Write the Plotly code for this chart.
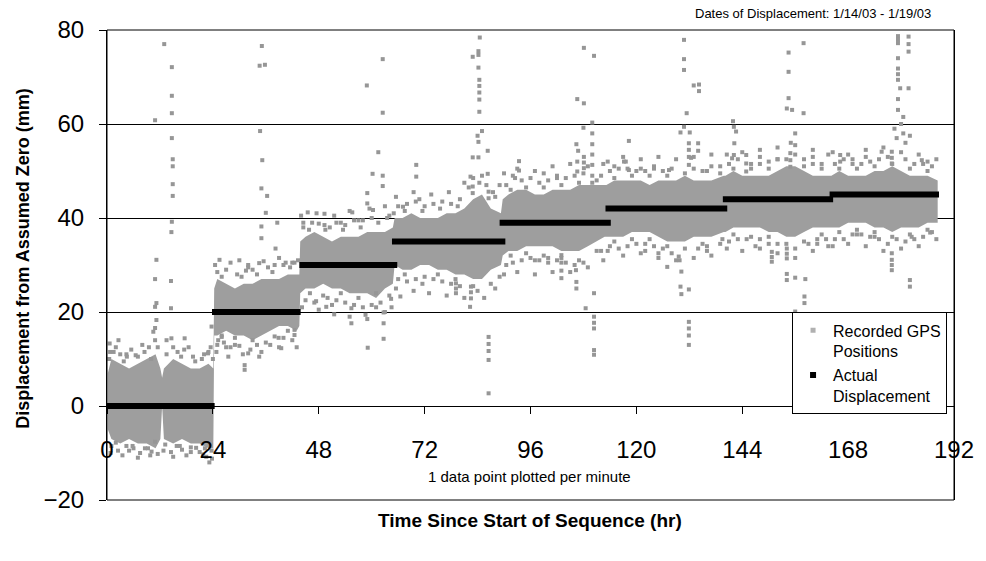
import plotly.graph_objects as go

FONT = "Liberation Sans, Arial, sans-serif"

# ---- data ----
x_ticks = [0, 24, 48, 72, 96, 120, 144, 168, 192]
y_ticks = [-20, 0, 20, 40, 60, 80]

# actual displacement steps (hr start, hr end, mm)
seg_start = [0, 23.8, 43.6, 64.6, 89.0, 113.0, 139.6, 163.8]
seg_end = [24.4, 43.9, 65.8, 90.3, 114.2, 140.6, 164.6, 188.6]
seg_level = [0, 20, 30, 35, 39, 42, 44, 45]

# dense core of the recorded GPS cloud (hr, lower mm, upper mm)
band_hr = [0.2, 1, 3, 5, 7, 9, 11, 12.1, 12.5, 12.9, 15, 17, 19, 21, 23, 24.1,
           24.3, 25, 27, 29, 31, 33, 35, 37, 39, 41, 43, 43.6,
           43.8, 45, 47, 49, 51, 53, 55, 57, 59, 61, 63, 64.8,
           65.2, 67, 69, 71, 73, 75, 77, 79, 81, 83, 85, 87, 89.3,
           89.7, 91, 93, 95, 97, 99, 101, 103, 105, 107, 109, 111, 112.8,
           113.2, 115, 117, 119, 121, 123, 125, 127, 129, 131, 133, 135, 137, 139.8,
           140.2, 142, 144, 146, 148, 150, 152, 154, 156, 158, 160, 162, 163.9,
           164.2, 166, 168, 170, 172, 174, 176, 178, 180, 182, 184, 186, 188.3]
band_low = [-5, -7, -8, -7, -8, -8, -9, -7, 0, -7, -8, -7, -8, -8, -9, -9,
            15, 15, 16, 15, 15, 14, 15, 16, 17, 17, 16, 17,
            24, 25, 25, 26, 25, 25, 24, 24, 24, 23, 25, 26,
            30, 29, 29, 30, 30, 29, 29, 28, 28, 27, 27, 29, 30,
            32, 33, 33, 34, 34, 34, 34, 33, 33, 33, 34, 35, 36,
            36, 36, 36, 37, 37, 37, 36, 35, 35, 35, 36, 36, 36, 37,
            37, 38, 38, 38, 38, 37, 37, 36, 36, 37, 38, 38, 38,
            38, 38, 39, 39, 39, 38, 38, 37, 38, 38, 38, 39, 39]
band_high = [7, 10, 9, 8, 9, 10, 11, 8, 6, 8, 10, 9, 8, 8, 9, 8,
             25, 27, 26, 25, 26, 26, 27, 27, 27, 28, 28, 28,
             35, 36, 37, 36, 35, 36, 36, 36, 37, 37, 37, 38,
             40, 40, 41, 40, 40, 40, 41, 41, 42, 44, 45, 42, 41,
             44, 45, 46, 46, 45, 45, 46, 46, 46, 47, 47, 47, 47,
             47, 48, 48, 48, 48, 47, 48, 48, 48, 49, 48, 48, 48, 49,
             49, 50, 49, 49, 49, 49, 50, 51, 51, 50, 49, 49, 49,
             49, 50, 49, 49, 49, 50, 50, 51, 50, 49, 49, 49, 48]

# scattered positions outside the dense core (hr, mm)
gps_outliers = [
    (0.6, 13.3), (2.6, 14.0), (0.7, 11.5), (4.4, 11.0), (10.9, 60.8), (12.97, 77.0),
    (14.7, 72.1), (14.7, 66.0), (14.7, 62.3), (14.7, 57.0), (14.9, 52.5), (14.9, 51.0),
    (14.9, 47.2), (14.9, 44.7), (14.7, 39.2), (14.6, 37.0), (11.2, 31.1), (10.9, 27.0),
    (14.5, 26.6), (11.2, 21.9), (10.9, 21.1), (14.5, 20.8), (11.2, 18.3), (10.9, 16.6),
    (10.5, 15.8), (10.9, 14.0), (13.5, 14.0), (14.6, 14.4), (17.6, 14.4), (22.9, 11.2),
    (23.7, 16.9), (10.1, -9.7), (9.3, -9.0), (10.9, -7.6), (15.8, -8.5), (23.7, -9.5),
    (22.2, -9.0), (4.4, -8.5), (6.0, -9.0), (19.0, -8.8),
    (35.1, 76.6), (34.6, 72.4), (35.8, 72.6), (34.7, 58.5), (35.2, 52.3), (35.0, 46.3),
    (36.3, 44.7), (36.0, 41.1), (35.0, 38.2), (38.6, 39.0), (35.0, 35.7), (38.2, 33.5),
    (25.5, 31.1), (34.5, 30.4), (31.2, 8.7), (31.2, 7.7), (34.5, 10.5), (32.0, 11.2),
    (39.5, 12.3), (42.5, 16.2), (42.5, 15.1), (25.2, 14.0), (26.0, 14.7), (38.9, 14.5),
    (30.0, 31.0), (32.0, 29.5), (40.0, 30.0), (42.0, 30.5), (27.0, 12.5), (29.0, 13.0),
    (62.5, 73.8), (58.9, 68.2), (62.5, 62.4), (61.5, 54.0), (60.2, 49.4), (62.5, 49.0),
    (62.5, 46.8), (59.0, 45.3), (59.0, 43.1), (60.3, 41.7), (55.6, 41.2), (49.3, 40.9),
    (49.3, 38.5), (45.5, 41.2), (59.1, 12.4), (62.7, 14.3), (62.7, 17.6), (62.7, 19.9),
    (55.4, 17.6), (55.4, 20.8), (58.6, 19.4), (49.7, 21.1), (47.4, 22.3), (64.4, 22.8),
    (66.5, 23.3), (53.0, 39.0), (57.0, 39.5), (44.5, 39.0), (51.0, 21.5), (61.0, 21.0),
    (64.0, 40.5),
    (70.1, 51.3), (70.1, 48.8), (70.8, 44.0), (67.1, 42.4), (84.5, 78.4), (82.9, 74.3),
    (84.2, 75.5), (84.2, 74.7), (84.2, 72.0), (84.4, 69.4), (84.4, 68.1), (84.4, 66.7),
    (84.4, 65.2), (84.4, 62.6), (84.2, 56.2), (82.9, 52.9), (84.2, 52.9), (86.3, 54.3),
    (86.3, 49.4), (82.4, 48.8), (84.4, 47.5), (82.9, 46.7), (82.9, 45.3), (86.5, 45.6),
    (86.5, 44.2), (86.5, 14.7), (86.5, 13.2), (86.5, 11.7), (86.5, 9.8), (86.5, 2.7),
    (82.3, 21.1), (79.1, 26.1), (79.1, 25.0), (79.1, 24.0), (82.5, 25.4), (82.5, 24.2),
    (82.5, 22.9), (84.0, 57.5), (85.0, 58.5),
    (93.4, 52.1), (93.4, 50.1), (108.1, 76.2), (110.4, 74.5), (106.6, 65.3), (108.1, 64.4),
    (108.0, 59.2), (110.0, 58.0), (110.0, 60.3), (110.0, 55.7), (110.0, 53.5), (110.0, 51.3),
    (110.0, 49.0), (110.0, 47.5), (106.4, 55.7), (106.8, 54.3), (108.1, 53.0), (108.1, 51.8),
    (108.1, 50.6), (106.6, 52.0), (106.6, 49.9), (110.4, 19.0), (110.4, 17.7), (110.4, 16.5),
    (110.4, 11.9), (110.4, 10.9), (108.5, 20.8), (110.4, 24.0), (103.0, 32.1), (103.0, 30.5),
    (103.0, 28.8), (103.0, 27.2), (106.4, 26.4), (106.4, 25.0), (106.3, 28.9), (100.0, 30.5),
    (97.0, 31.0), (92.0, 49.0), (99.0, 49.5), (102.0, 48.5),
    (117.2, 52.0), (117.6, 52.0), (118.3, 50.2), (118.3, 56.4), (127.4, 50.2), (130.8, 77.9),
    (130.8, 73.8), (130.8, 71.5), (133.0, 68.2), (134.2, 68.4), (134.2, 67.0), (131.4, 62.3),
    (130.8, 59.4), (132.1, 58.2), (130.0, 58.2), (131.9, 55.9), (131.9, 54.5), (134.0, 55.9),
    (134.0, 54.3), (132.4, 52.8), (131.9, 53.0), (131.9, 51.3), (131.9, 17.9), (131.9, 16.5),
    (131.9, 15.0), (131.9, 13.0), (130.0, 25.4), (131.9, 24.8), (130.2, 23.8), (130.2, 28.6),
    (127.0, 29.6), (129.6, 31.8), (129.8, 31.0), (122.0, 33.0), (125.0, 32.5), (136.0, 33.0),
    (115.0, 51.0), (121.0, 50.5), (124.0, 51.0), (137.0, 51.0),
    (141.9, 60.6), (142.1, 59.4), (142.6, 58.4), (142.2, 55.9), (141.7, 52.7), (144.9, 53.4),
    (144.9, 51.6), (144.9, 49.9), (142.1, 53.4), (154.9, 53.8), (154.9, 52.3), (154.9, 50.9),
    (157.9, 77.2), (154.5, 75.2), (154.5, 71.1), (154.5, 65.5), (154.1, 63.3), (155.3, 63.0),
    (157.9, 62.3), (156.0, 58.0), (155.0, 56.0), (150.7, 32.8), (150.7, 31.7), (150.7, 30.7),
    (154.1, 33.5), (154.1, 32.4), (154.1, 31.4), (154.1, 28.1), (154.1, 26.8), (156.0, 27.3),
    (158.3, 27.0), (158.1, 23.3), (158.1, 21.9), (156.0, 20.1), (157.0, 16.0), (157.5, 15.0),
    (147.0, 34.0), (161.0, 34.5), (148.0, 53.0), (152.0, 52.5), (160.0, 53.0),
    (166.2, 53.4), (166.2, 52.0), (177.9, 54.1), (177.9, 52.8), (177.9, 51.6), (184.7, 52.3),
    (175.6, 54.1), (179.3, 78.7), (179.3, 77.9), (179.3, 77.2), (181.7, 78.6), (181.7, 77.0),
    (181.7, 75.4), (179.3, 74.0), (179.3, 71.8), (179.3, 70.6), (179.3, 69.4), (179.8, 67.6),
    (181.7, 67.6), (179.3, 65.3), (179.3, 63.0), (180.0, 60.0), (180.5, 58.0), (179.0, 57.0),
    (181.0, 56.0), (178.5, 59.0), (180.5, 61.5), (182.0, 57.5), (177.9, 31.1), (177.9, 30.0),
    (177.9, 28.9), (177.9, 32.5), (182.0, 26.8), (182.0, 25.4), (182.4, 36.0), (186.6, 36.9),
    (170.0, 36.5), (174.0, 36.0), (186.0, 52.0), (169.0, 52.5), (172.0, 53.0),
]

# scattered positions along the edges of the dense core (hr, mm)
gps_fringe = [
    (1.5, 11.5), (3, 11), (4.5, 10.5), (6.5, 10.8), (8.5, 11.5), (9.5, 12.5), (16, 11.5),
    (17.5, 12), (19.5, 10.5), (21.5, 10), (23, 11.5), (23.5, 12.5),
    (1, -8.5), (2.5, -9.5), (5, -9.5), (7.5, -10), (9.8, -10.5), (12.8, -9.5), (14.5, -9.8),
    (17, -9.3), (19, -9.8), (21, -9.8), (22.5, -10.8), (23.8, -11.2),
    (25, 28.5), (27, 29), (29.5, 28), (31.5, 28.8), (33, 29), (36.5, 29.5), (38, 30),
    (40.5, 30.5), (42.5, 30.5),
    (25, 13), (26.5, 13.5), (28, 12.5), (30, 12.8), (32.5, 12), (34, 13), (36, 13.5),
    (38, 14.8), (40, 14.5), (42, 14),
    (44.5, 38), (46.5, 39), (48, 38.8), (50.5, 38), (52, 39), (54, 38.5), (56, 39.5),
    (58, 39.5), (60, 40), (63.5, 40),
    (45, 22.5), (47, 22), (49, 23.5), (52, 22.5), (54, 22), (56, 21.5), (58, 21),
    (60, 21.5), (62, 22), (64, 23.5),
    (66, 42.5), (68, 43), (70, 43.5), (72, 42.5), (74, 43), (76, 43.5), (78, 43),
    (80, 44), (82, 46.5), (86, 47), (88, 44.5),
    (66, 27), (68, 26.5), (70, 27), (72, 27.5), (74, 27), (76, 26.5), (78, 26),
    (80, 25.5), (84, 24.5), (87, 26), (89, 27.5),
    (90.5, 47), (92.5, 48.5), (94, 48), (96, 48.5), (98, 47.5), (100, 48), (102, 49),
    (104, 48.5), (106, 49), (108, 49.5), (112, 49),
    (90.5, 30), (92, 30.5), (94, 31), (96, 31.5), (98, 31), (100, 31.5), (102, 31),
    (104, 30.5), (106, 30), (108, 30.5), (112, 33),
    (114, 50), (116, 50.5), (118, 50.5), (120, 50), (122, 50), (124, 50.5), (126, 50),
    (128, 50.5), (133, 50.5), (136, 50), (139, 51),
    (114, 34), (116, 33.5), (118, 34), (120, 34.5), (122, 34.5), (124, 34), (126, 33.5),
    (128, 32.5), (134, 33.5), (136, 34), (139, 34.5),
    (141, 51.5), (143, 52.5), (146, 51.5), (148, 51.5), (150, 52), (152, 52.5),
    (156, 53.5), (158, 52.5), (160, 51.5), (162, 51.5),
    (141, 35), (143, 35.5), (145, 35.5), (148, 35.5), (150, 34.5), (152, 34.5),
    (156, 33.5), (159, 34.5), (161, 35.5), (163, 35.5),
    (165, 51.5), (167, 52.5), (169, 51.5), (171, 51.5), (173, 52), (175, 52.5),
    (177, 53), (181, 52.5), (183, 51.5), (185, 51.5), (187, 51),
    (165, 35.5), (167, 35.5), (169, 36.5), (171, 36.5), (173, 36), (175, 35.5),
    (177, 34.5), (179, 35.5), (181, 35), (183, 35.5), (185, 36), (187, 37),
    (0.5, 10), (2, 12.5), (3.8, 9.5), (5.5, 12), (7, 10.5), (8, 13), (10, 10), (11.5, 12.5),
    (13.5, 11), (15, 12.5), (16.8, 10.5), (18.5, 12.5), (20, 9.5), (22, 11), (24, 10),
    (0.8, -10), (2, -7.8), (3.5, -10.5), (5.8, -8.5), (7, -11), (8.6, -9), (11.5, -10.2),
    (13.2, -8.2), (15, -10.8), (16.5, -8.5), (18, -10.5), (20.2, -8.9), (21.8, -10.3), (23.2, -12),
    (24.5, 30), (26, 27.5), (28, 30.5), (30.5, 27.5), (32, 30), (34, 28), (35.5, 30.8),
    (37.5, 28.5), (39, 31.5), (41.5, 29.5), (43.3, 31),
    (24.8, 11.5), (26, 15), (27.5, 10.5), (29, 14.5), (30.8, 11), (33, 14), (35, 11.5),
    (37, 13), (39, 12.5), (41, 16), (43, 12.5),
    (44, 40.5), (45.8, 37.5), (47.5, 41), (49.5, 37.5), (51.5, 40.5), (53.5, 37.5), (55, 41.5),
    (57.5, 38), (59.5, 42), (61.5, 39), (63, 42.5), (65, 41),
    (44.2, 21), (46, 24), (48, 20.5), (50, 23), (51.5, 19.5), (53, 24), (55, 19), (57, 23),
    (59, 18.5), (61, 24), (63, 20), (64.5, 21),
    (65.5, 44.5), (67.5, 41.5), (69.5, 45.5), (71.5, 41.5), (73.5, 45), (75.5, 42), (77.5, 45.5),
    (79.5, 42.5), (81, 47.5), (83, 48.5), (85, 49), (87.5, 45.5), (89, 47),
    (65.5, 25), (67.5, 28), (69.5, 24.5), (71.5, 26), (73, 24), (75, 28), (77, 23.5), (79, 27),
    (81, 23), (83, 25.5), (85.5, 23), (88, 25),
    (90, 49.5), (91.5, 46), (93, 50.5), (95, 46.5), (97, 50), (99, 46.5), (101, 51), (103, 47),
    (105, 51.5), (107, 47.5), (109, 51), (111, 48), (112.5, 51.5),
    (90, 28), (91.5, 32), (93, 28.5), (95, 32.5), (97, 28), (99, 32), (101, 28.5), (103, 31.5),
    (105, 28.5), (107, 31), (109, 29.5), (111, 33), (112.5, 31),
    (113.5, 52), (115, 48.5), (117, 53), (119, 49), (121, 52.5), (123, 49), (125, 53), (127, 49),
    (129, 52.5), (131, 49.5), (133, 53), (135, 50), (137, 53.5), (139, 49.5),
    (113.5, 33), (115, 35), (117, 32), (119, 35.5), (121, 32.5), (123, 35.5), (125, 31.5),
    (127, 34), (129, 31), (131, 33.5), (133, 31.5), (135, 34.5), (137, 32), (139.5, 35.5),
    (140.5, 53.5), (142, 50.5), (144, 54), (146, 50.5), (148, 54.5), (150, 50.5), (152, 55),
    (154, 52.5), (156, 55.5), (158, 51), (160, 54.5), (162, 50.5), (163.5, 53.5),
    (140.5, 33.5), (142, 36.5), (144, 33), (146, 36), (148, 33.5), (150, 36), (152, 32.5),
    (154, 34.5), (156, 31.5), (158, 35), (160, 33), (162, 36.5), (163.5, 34),
    (164.5, 54), (166, 50.5), (168, 53.5), (170, 50.5), (172, 54.5), (174, 51), (176, 55),
    (178, 51.5), (180, 54), (182, 50.5), (184, 53.5), (186, 50), (188, 52.5),
    (164.5, 34), (166, 37), (168, 34.5), (170, 37.5), (172, 34), (174, 37), (176, 33),
    (178, 36), (180, 33.5), (182, 36.5), (184, 34), (186, 37.5), (188, 35.5),
]

GRAY = "#969696"
BAND = "#9e9e9e"

fig = go.Figure()

# dense core of recorded positions
fig.add_trace(go.Scatter(x=band_hr, y=band_low, mode="lines",
                         line=dict(width=0, color=BAND), showlegend=False,
                         hoverinfo="skip"))
fig.add_trace(go.Scatter(x=band_hr, y=band_high, mode="lines",
                         line=dict(width=0, color=BAND), fill="tonexty",
                         fillcolor=BAND, showlegend=False, hoverinfo="skip"))

pts = gps_outliers + gps_fringe
fig.add_trace(go.Scatter(x=[p[0] for p in pts], y=[p[1] for p in pts],
                         mode="markers", showlegend=False,
                         marker=dict(symbol="square", size=4, color=GRAY,
                                     line=dict(width=0))))

# actual displacement steps
sx, sy = [], []
for a, b, lv in zip(seg_start, seg_end, seg_level):
    sx += [a, b, None]
    sy += [lv, lv, None]
fig.add_trace(go.Scatter(x=sx, y=sy, mode="lines", showlegend=False,
                         line=dict(color="black", width=6)))

# legend entries
fig.add_trace(go.Scatter(x=[None], y=[None], mode="markers",
                         name="Recorded GPS<br>Positions",
                         marker=dict(symbol="square", size=5, color="#b0b0b0")))
fig.add_trace(go.Scatter(x=[None], y=[None], mode="markers",
                         name="Actual<br>Displacement",
                         marker=dict(symbol="square", size=6, color="black")))

fig.update_layout(
    width=986, height=561,
    margin=dict(l=107, r=30, t=30, b=61),
    paper_bgcolor="white", plot_bgcolor="white",
    font=dict(family=FONT, color="black"),
    showlegend=True,
    legend=dict(x=0.9918, xanchor="right", y=0.399, yanchor="top",
                bgcolor="white", bordercolor="black", borderwidth=1,
                font=dict(size=16, family=FONT), valign="top",
                traceorder="normal", tracegroupgap=0, itemwidth=30),
    xaxis=dict(range=[0, 192], tickvals=x_ticks, ticktext=[str(t) for t in x_ticks],
               showgrid=False, zeroline=False, anchor="free",
               position=(500.5 - 406) / 470,
               showline=True, linecolor="black", linewidth=1,
               ticks="outside", ticklen=7, tickcolor="black",
               tickfont=dict(size=24, family=FONT), ticklabelstandoff=16),
    yaxis=dict(range=[-20, 80], tickvals=y_ticks,
               showgrid=True, gridcolor="black", gridwidth=1, zeroline=False,
               showline=True, linecolor="black", linewidth=1, mirror=True,
               ticks="outside", ticklen=7, tickcolor="black",
               tickfont=dict(size=24, family=FONT), ticklabelstandoff=10),
    shapes=[dict(type="rect", xref="paper", yref="paper", x0=0, x1=1, y0=0, y1=1,
                 line=dict(color="black", width=1), fillcolor="rgba(0,0,0,0)")],
    annotations=[
        dict(text="Dates of Displacement: 1/14/03 - 1/19/03", xref="paper", yref="paper",
             x=(935 - 107) / 849, y=(500.5 - 14) / 470, xanchor="right", yanchor="middle",
             showarrow=False, font=dict(size=13, family=FONT)),
        dict(text="1 data point plotted per minute", xref="paper", yref="paper",
             x=(530 - 107) / 849, y=(500.5 - 477) / 470, xanchor="center", yanchor="middle",
             showarrow=False, font=dict(size=15, family=FONT)),
        dict(text="<b>Time Since Start of Sequence (hr)</b>", xref="paper", yref="paper",
             x=(531 - 107) / 849, y=(500.5 - 521) / 470, xanchor="center", yanchor="middle",
             showarrow=False, font=dict(size=19, family=FONT)),
        dict(text="<b>Displacement from Assumed Zero (mm)</b>", xref="paper", yref="paper",
             x=(22 - 107) / 849, y=(500.5 - 259) / 470, xanchor="center", yanchor="middle",
             textangle=-90, showarrow=False, font=dict(size=18, family=FONT)),
    ],
)

fig.write_html("out.html")
